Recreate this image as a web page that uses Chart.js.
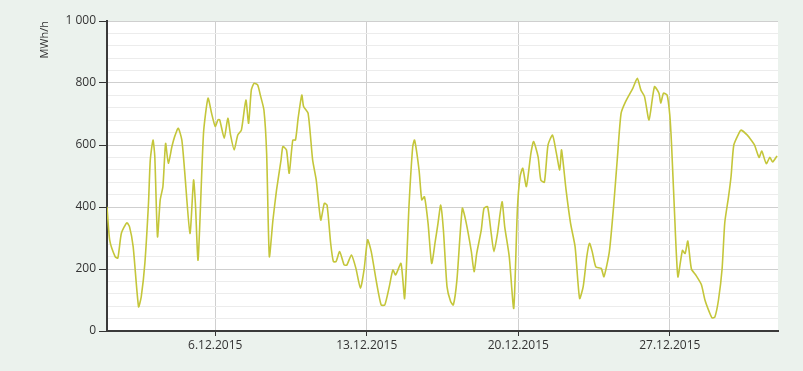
<!DOCTYPE html>
<html>
<head>
<meta charset="utf-8">
<script src="https://cdn.jsdelivr.net/npm/chart.js@4.4.1/dist/chart.umd.min.js"></script>
<style>
    html, body {margin: 0; padding: 0; background: #ebf2ed;}
    #wrap {width: 803px; height: 371px;}
</style>
</head>
<body>
<div id="wrap"><canvas id="loadChart"></canvas></div>
<script>
// hours since 1.12.2015 00:00
const hours = [0, 3, 9, 12, 16, 22, 25, 29, 35, 38, 42, 46, 48, 51, 53, 56, 59, 62, 65, 68, 72, 75, 79, 83, 86, 92, 96, 98, 101,
    107, 112, 116, 120, 123, 125, 130, 134, 137, 141, 145, 149, 154, 157, 160, 163, 167, 170, 174, 177, 180, 184, 188,
    193, 195, 199, 202, 206, 209, 212, 216, 218, 223, 228, 232, 237, 241, 244, 248, 251, 254, 258, 263, 266, 271, 276,
    281, 285, 289, 293, 299, 304, 308, 313, 317, 320, 326, 330, 335, 339, 341, 346, 349, 352, 356, 360, 364, 367, 370,
    373, 377, 381, 384, 388, 394, 398, 404, 407, 410, 415, 418, 422, 426, 429, 433, 438, 441, 446, 451, 455, 458, 461,
    465, 470, 473, 478, 481, 485, 489, 494, 498, 502, 504, 509, 514, 519, 524, 528, 532, 535, 538, 542, 548, 551, 557,
    562, 566, 570, 575, 583, 588, 592, 596, 601, 607, 612, 614, 617, 621, 624, 626, 629, 633, 638, 641, 644, 648, 653,
    659, 663, 668, 671, 674, 678, 682, 685, 689, 692, 695, 701, 703, 710, 715, 718, 723, 726, 731, 735, 738, 743]
const mwh = [401, 293, 240, 235, 316, 349, 336, 272, 78, 111, 219, 412, 552, 616, 562, 304, 423, 466, 605, 541, 595, 627, 654, 616, 519, 315, 487, 412, 229,
    638, 751, 702, 660, 681, 681, 622, 686, 632, 584, 632, 648, 745, 670, 777, 799, 794, 761, 713, 573, 240, 358, 455,
    552, 595, 584, 509, 616, 616, 688, 761, 724, 702, 552, 487, 358, 412, 406, 283, 224, 224, 256, 213, 213, 245, 202,
    138, 197, 294, 256, 154, 84, 84, 143, 197, 181, 218, 105, 412, 595, 616, 519, 423, 433, 347, 218, 290, 347, 406,
    326, 143, 95, 84, 165, 396, 353, 256, 191, 251, 326, 396, 401, 315, 256, 315, 417, 336, 240, 73, 390, 498, 525,
    466, 573, 611, 562, 487, 480, 600, 632, 578, 519, 584, 455, 347, 272, 105, 143, 240, 283, 256, 207, 202, 175, 256,
    412, 562, 702, 740, 783, 815, 777, 756, 681, 788, 767, 735, 767, 761, 697, 600, 400, 175, 260, 250, 290, 200, 180,
    150, 100, 60, 42, 45, 100, 200, 350, 430, 500, 600, 640, 648, 632, 613, 600, 560, 580, 540, 560, 545, 565]

const tickHours = [120, 288, 456, 624]
const tickLabels = ['6.12.2015', '13.12.2015', '20.12.2015', '27.12.2015']

// white plot area on the tinted page
const plotBackground = {
    id: 'plotBackground',
    beforeDraw(chart) {
        const {ctx, chartArea} = chart
        ctx.save()
        ctx.fillStyle = '#ffffff'
        ctx.fillRect(chartArea.left, chartArea.top, chartArea.right - chartArea.left, chartArea.bottom - chartArea.top)
        ctx.restore()
    }
}

const fontFamily = "'Open Sans', sans-serif"

new Chart(document.getElementById('loadChart'), {
    type: 'line',
    data: {
        datasets: [{
            data: hours.map((h, i) => ({x: h, y: mwh[i]})),
            borderColor: '#c4c63a',
            borderWidth: 1.6,
            pointRadius: 0,
            tension: 0.2,
            fill: false
        }]
    },
    options: {
        responsive: true,
        maintainAspectRatio: false,
        animation: false,
        layout: {padding: {left: 38, right: 25, top: 21, bottom: 0}},
        plugins: {legend: {display: false}, tooltip: {enabled: false}},
        scales: {
            x: {
                type: 'linear',
                min: 0,
                max: 744,
                afterBuildTicks: (scale) => {
                    scale.ticks = tickHours.map((v) => ({value: v}))
                },
                afterFit: (scale) => {
                    scale.height = 40
                },
                ticks: {
                    autoSkip: false,
                    maxRotation: 0,
                    padding: 2,
                    color: '#333333',
                    font: {family: fontFamily, size: 12},
                    callback: (value) => tickLabels[tickHours.indexOf(value)]
                },
                grid: {color: '#cfcfcf', tickColor: '#333333', tickLength: 5},
                border: {display: true, color: '#3a3a3a', width: 2}
            },
            y: {
                min: 0,
                max: 1000,
                afterFit: (scale) => {
                    scale.width = 69
                },
                ticks: {
                    stepSize: 40,
                    autoSkip: false,
                    padding: 3,
                    color: '#333333',
                    font: {family: fontFamily, size: 12},
                    callback: (value) => value % 200 === 0 ? (value === 1000 ? '1 000' : value) : ''
                },
                grid: {
                    color: (ctx) => ctx.tick && ctx.tick.value % 200 === 0 ? '#cfcfcf' : '#ececec',
                    tickColor: (ctx) => ctx.tick && ctx.tick.value % 200 === 0 ? '#333333' : 'rgba(0,0,0,0)',
                    tickLength: 8
                },
                border: {display: true, color: '#3a3a3a', width: 2},
                title: {
                    display: true,
                    text: 'MWh/h',
                    align: 'end',
                    padding: {top: 0, bottom: 0},
                    color: '#333333',
                    font: {family: fontFamily, size: 11}
                }
            }
        }
    },
    plugins: [plotBackground]
});
</script>
</body>
</html>
